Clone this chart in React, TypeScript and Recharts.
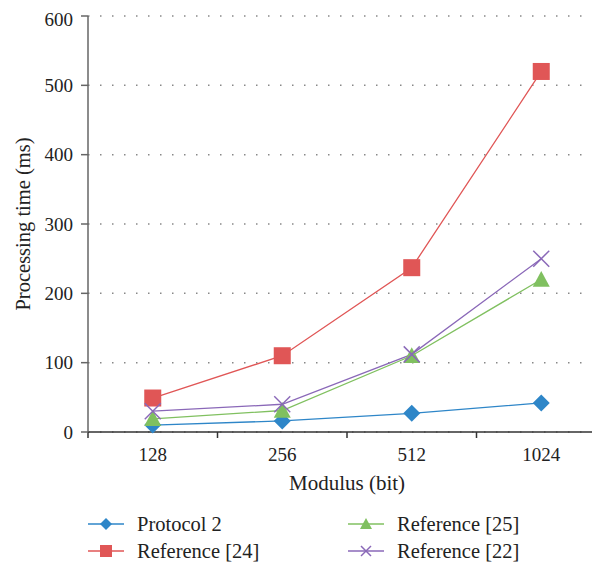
import React from "react";
import {
  LineChart,
  Line,
  XAxis,
  YAxis,
  CartesianGrid,
  Legend,
} from "recharts";

const moduli = ["128", "256", "512", "1024"];
const protocol2 = [10, 16, 27, 42];
const reference24 = [49, 110, 237, 520];
const reference25 = [19, 31, 110, 220];
const reference22 = [30, 40, 112, 250];

const yTicks = [0, 100, 200, 300, 400, 500, 600];
// category boundaries (tick marks sit between the categories)
const xBounds = [0, 1, 2, 3, 4];

const FONT = "'Liberation Serif', 'DejaVu Serif', serif";
const TEXT = "#222";

const BLUE = "#2e86c8";
const RED = "#e05656";
const GREEN = "#80c060";
const PURPLE = "#8a68b8";

const data = moduli.map((m, i) => ({
  pos: i + 0.5,
  name: m,
  protocol2: protocol2[i],
  reference24: reference24[i],
  reference25: reference25[i],
  reference22: reference22[i],
}));

type Kind = "diamond" | "square" | "triangle" | "cross";

const Marker = ({ kind, cx, cy, r, color }: { kind: Kind; cx: number; cy: number; r: number; color: string }) => {
  if (kind === "diamond") {
    return (
      <polygon
        points={`${cx},${cy - r} ${cx + r},${cy} ${cx},${cy + r} ${cx - r},${cy}`}
        fill={color}
      />
    );
  }
  if (kind === "square") {
    return <rect x={cx - r} y={cy - r} width={r * 2} height={r * 2} fill={color} />;
  }
  if (kind === "triangle") {
    return (
      <polygon
        points={`${cx},${cy - r} ${cx + r},${cy + r * 0.85} ${cx - r},${cy + r * 0.85}`}
        fill={color}
      />
    );
  }
  return (
    <g stroke={color} strokeWidth={1.5}>
      <line x1={cx - r} y1={cy - r} x2={cx + r} y2={cy + r} />
      <line x1={cx - r} y1={cy + r} x2={cx + r} y2={cy - r} />
    </g>
  );
};

const makeDot = (kind: Kind, color: string, r: number) => (props: any) => {
  const { cx, cy, index } = props;
  if (cx == null || cy == null) return <g key={`d-${index}`} />;
  return (
    <g key={`${kind}-${index}`}>
      <Marker kind={kind} cx={cx} cy={cy} r={r} color={color} />
    </g>
  );
};

// label each band at its centre; the tick itself is at the band's left edge
const BAND = 129.5;
const CategoryTick = (props: any) => {
  const { x, y, payload, index } = props;
  const i = Math.round(payload.value);
  if (i >= moduli.length) return <g />;
  return (
    <text
      x={x + BAND / 2}
      y={y + 15}
      textAnchor="middle"
      fill={TEXT}
      fontSize={19}
      fontFamily={FONT}
      key={`t-${index}`}
    >
      {moduli[i]}
    </text>
  );
};

const legendItems: { label: string; kind: Kind; color: string; left: number; top: number }[] = [
  { label: "Protocol 2", kind: "diamond", color: BLUE, left: 80, top: 32 },
  { label: "Reference [24]", kind: "square", color: RED, left: 80, top: 59 },
  { label: "Reference [25]", kind: "triangle", color: GREEN, left: 340, top: 32 },
  { label: "Reference [22]", kind: "cross", color: PURPLE, left: 340, top: 59 },
];

const LegendContent = () => (
  <div style={{ position: "relative", width: 620, height: 75, fontFamily: FONT }}>
    {legendItems.map((it) => (
      <div
        key={it.label}
        style={{
          position: "absolute",
          left: it.left,
          top: it.top - 12,
          height: 24,
          display: "flex",
          alignItems: "center",
        }}
      >
        <svg width={36} height={24}>
          <line x1={0} y1={12} x2={36} y2={12} stroke={it.color} strokeWidth={1.5} />
          <Marker kind={it.kind} cx={18} cy={12} r={it.kind === "cross" ? 5 : 6} color={it.color} />
        </svg>
        <span style={{ marginLeft: 13, fontSize: 20.5, color: TEXT }}>{it.label}</span>
      </div>
    ))}
  </div>
);

export default function App() {
  return (
    <div style={{ width: 592, height: 559, overflow: "hidden" }}>
      <LineChart
        width={620}
        height={559}
        data={data}
        margin={{ top: 8, right: 22, left: 0, bottom: 0 }}
      >
        <CartesianGrid
          vertical={false}
          stroke="#888"
          strokeDasharray="1.5 10.5"
          strokeWidth={1.5}
        />
        <XAxis
          dataKey="pos"
          type="number"
          domain={[0, 4]}
          ticks={xBounds}
          interval={0}
          height={60}
          axisLine={{ stroke: "#333", strokeWidth: 1.5 }}
          tickLine={{ stroke: "#333", strokeWidth: 1.5 }}
          tickSize={6}
          tickMargin={8}
          tick={<CategoryTick />}
          label={{
            value: "Modulus (bit)",
            position: "insideBottom",
            offset: 2,
            style: { fill: TEXT, fontSize: 21, fontFamily: FONT },
          }}
        />
        <YAxis
          width={80}
          domain={[0, 600]}
          ticks={yTicks}
          axisLine={{ stroke: "#666", strokeWidth: 1.5 }}
          tickLine={{ stroke: "#666", strokeWidth: 1.5 }}
          tickSize={7}
          tickMargin={8}
          tick={{ fill: TEXT, fontSize: 19, fontFamily: FONT }}
          label={{
            value: "Processing time (ms)",
            angle: -90,
            position: "insideLeft",
            offset: 15,
            style: { fill: TEXT, fontSize: 20.5, fontFamily: FONT, textAnchor: "middle" },
          }}
        />
        <Legend verticalAlign="bottom" height={75} content={<LegendContent />} />
        <Line
          dataKey="protocol2"
          stroke={BLUE}
          strokeWidth={1.3}
          dot={makeDot("diamond", BLUE, 8.5)}
          activeDot={false}
          isAnimationActive={false}
        />
        <Line
          dataKey="reference24"
          stroke={RED}
          strokeWidth={1.3}
          dot={makeDot("square", RED, 8.5)}
          activeDot={false}
          isAnimationActive={false}
        />
        <Line
          dataKey="reference25"
          stroke={GREEN}
          strokeWidth={1.3}
          dot={makeDot("triangle", GREEN, 8.5)}
          activeDot={false}
          isAnimationActive={false}
        />
        <Line
          dataKey="reference22"
          stroke={PURPLE}
          strokeWidth={1.3}
          dot={makeDot("cross", PURPLE, 8)}
          activeDot={false}
          isAnimationActive={false}
        />
      </LineChart>
    </div>
  );
}
